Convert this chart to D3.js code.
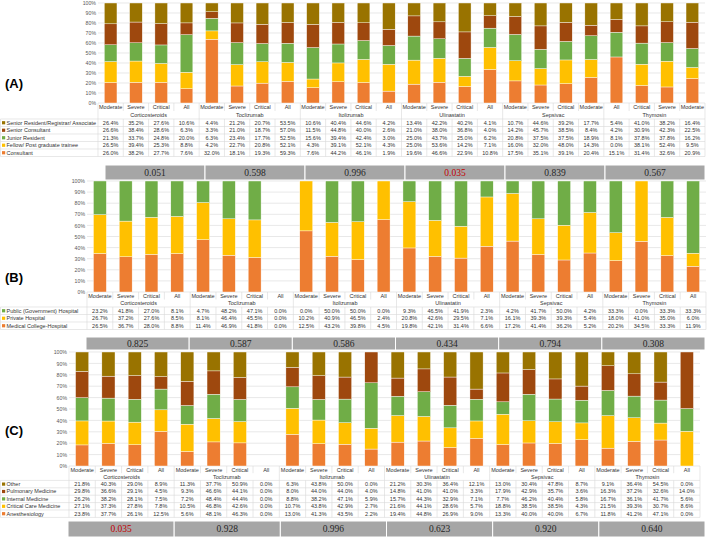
<!DOCTYPE html>
<html><head><meta charset="utf-8">
<script src="https://cdn.jsdelivr.net/npm/d3@7"></script>
<style>body{margin:0;background:#fff}svg{display:block}</style>
</head><body><svg id="chart" width="709" height="537"></svg>
<script>
// ---------- DATA ----------
const drugs = ["Corticosteroids","Toclizumab","Itolizumab","Ulinastatin","Sepsivac","Thymosin"];
const colLabelsA = ["Moderate","Severe","Critical","All","Moderate","Severe","Critical","All","Moderate","Severe","Critical","All","Moderate","Severe","Critical","All","Moderate","Severe","Critical","Moderate","All","Critical","Severe","Moderate"];
const colLabelsStd = ["Moderate","Severe","Critical","All","Moderate","Severe","Critical","All","Moderate","Severe","Critical","All","Moderate","Severe","Critical","All","Moderate","Severe","Critical","All","Moderate","Severe","Critical","All"];

// Panel A (table order, top row first)
const seriesA = ["Senior Resident/Registrar/ Associate","Senior Consultant","Junior Resident","Fellow/ Post graduate trainee","Consultant"];
const colorsA = ["#997300","#9E480E","#70AD47","#FFC000","#ED7D31"];
const aSeniorResident = [26.4,35.2,27.6,10.6, 4.4,21.2,20.7,53.5, 10.6,40.4,44.6,4.2, 13.4,42.2,40.2,4.1, 10.7,44.6,39.2,17.7, 5.4,41.0,38.2,16.4];
const aSeniorConsultant = [26.6,38.4,28.6,6.3, 3.3,21.0,18.7,57.0, 11.5,44.8,40.0,2.6, 21.0,38.0,36.8,4.0, 14.2,45.7,38.5,8.4, 4.2,30.9,42.3,22.5];
const aJuniorResident = [21.3,33.7,24.8,20.0, 6.3,23.4,17.7,52.5, 15.6,39.4,42.4,3.0, 25.0,43.7,25.0,6.2, 20.8,37.5,37.5,18.9, 8.1,37.8,37.8,16.2];
const aFellow = [26.5,39.4,25.3,8.8, 4.2,22.7,20.8,52.1, 4.3,39.1,52.1,4.3, 25.0,53.6,14.2,7.1, 16.0,32.0,48.0,14.3, 0.0,38.1,52.4,9.5];
const aConsultant = [26.0,38.2,27.7,7.6, 32.0,18.1,19.3,59.3, 7.6,44.2,46.1,1.9, 19.6,46.6,22.9,10.8, 17.5,35.1,39.1,20.4, 15.1,31.4,32.6,20.9];
const pValuesA = ["0.051","0.598","0.996","0.035","0.839","0.567"];
const pSigA = [false,false,false,true,false,false];

// Panel B
const seriesB = ["Public (Government) Hospital","Private Hospital","Medical College-Hospital"];
const colorsB = ["#70AD47","#FFC000","#ED7D31"];
const bPublic = [23.2,41.8,27.0,8.1, 4.7,48.2,47.1,0.0, 0.0,50.0,50.0,0.0, 9.3,46.5,41.9,2.3, 4.2,41.7,50.0,4.2, 33.3,0.0,33.3,33.3];
const bPrivate = [26.7,37.2,27.6,8.5, 8.1,46.4,45.5,0.0, 10.2,40.9,46.5,2.4, 20.8,42.6,29.5,7.1, 16.1,39.3,39.3,5.4, 18.0,41.0,35.0,6.0];
const bMedical = [26.5,36.7,28.0,8.8, 11.4,46.9,41.8,0.0, 12.5,43.2,39.8,4.5, 19.8,42.1,31.4,6.6, 17.2,41.4,36.2,5.2, 20.2,34.5,33.3,11.9];
const pValuesB = ["0.825","0.587","0.586","0.434","0.794","0.308"];
const pSigB = [false,false,false,false,false,false];

// Panel C
const seriesC = ["Other","Pulmonary Medicine","Internal Medicine","Critical Care Medicine","Anesthesiology"];
const colorsC = ["#997300","#9E480E","#70AD47","#FFC000","#ED7D31"];
const cOther = [21.8,40.3,29.0,8.9, 11.3,37.7,50.9,0.0, 6.3,43.8,50.0,0.0, 21.2,30.3,36.4,12.1, 13.0,30.4,47.8,8.7, 9.1,36.4,54.5,0.0];
const cPulmonary = [29.8,36.6,29.1,4.5, 9.3,46.6,44.1,0.0, 8.0,44.0,44.0,4.0, 14.8,41.0,41.0,3.3, 17.9,42.9,35.7,3.6, 16.3,37.2,32.6,14.0];
const cInternal = [26.2,38.2,28.1,7.5, 7.2,48.4,44.4,0.0, 8.8,38.2,47.1,5.9, 15.7,44.3,32.9,7.1, 7.7,46.2,40.4,5.8, 16.7,36.1,41.7,5.6];
const cCritical = [27.1,37.3,27.8,7.8, 10.5,46.8,42.6,0.0, 10.7,43.8,42.9,2.7, 21.6,44.1,28.6,5.7, 18.8,38.5,38.5,4.3, 21.5,39.3,30.7,8.6];
const cAnesthesiology = [23.8,37.7,26.1,12.5, 5.6,48.1,46.3,0.0, 13.0,41.3,43.5,2.2, 19.4,44.8,26.9,9.0, 13.3,40.0,40.0,6.7, 11.8,41.2,47.1,0.0];
const pValuesC = ["0.035","0.928","0.996","0.623","0.920","0.640"];
const pSigC = [true,false,false,false,false,false];

// ---------- DRAW ----------
const svg = d3.select("#chart");
const FONT = "'Liberation Sans', Arial, sans-serif";
const SERIF = "'Liberation Serif', 'Times New Roman', serif";
const gridCol = "#d9d9d9";

function drawPanel(cfg) {
  const g = svg.append("g");
  const n = cfg.labels.length;
  const idx = d3.range(n);
  const xb = d3.scaleBand().domain(idx).range([cfg.x0, cfg.x1]).paddingInner(0.5).paddingOuter(0.25);
  const xc = d3.scaleBand().domain(idx).range([cfg.x0, cfg.x1]);
  const y = d3.scaleLinear().domain([0, 1]).range([cfg.yB, cfg.yT]);
  const ticks = d3.range(0, 11).map(d => d / 10);

  g.append("g").selectAll("line").data(ticks).join("line")
    .attr("x1", cfg.x0).attr("x2", cfg.x1)
    .attr("y1", d => y(d)).attr("y2", d => y(d))
    .attr("stroke", gridCol).attr("stroke-width", 0.6);

  const ax = g.append("g").attr("transform", `translate(${cfg.x0 - 1},0)`)
    .call(d3.axisLeft(y).tickValues(ticks).tickFormat(d3.format(".0%")).tickSize(0).tickPadding(1));
  ax.select(".domain").remove();
  ax.selectAll("text").attr("font-family", FONT).attr("font-size", 5.2).attr("fill", "#595959");

  const keys = cfg.series.slice().reverse();
  const vals = cfg.values.slice().reverse();
  const colors = cfg.colors.slice().reverse();
  const rows = idx.map(i => { const o = {i}; keys.forEach((k, j) => o[k] = vals[j][i]); return o; });
  const stacked = d3.stack().keys(keys).offset(d3.stackOffsetExpand)(rows);
  g.append("g").selectAll("g").data(stacked).join("g")
    .attr("fill", (d, j) => colors[j])
    .selectAll("rect").data(d => d).join("rect")
    .attr("x", d => xb(d.data.i)).attr("width", xb.bandwidth())
    .attr("y", d => y(d[1])).attr("height", d => Math.max(0, y(d[0]) - y(d[1])))
    .attr("stroke", "#fff").attr("stroke-width", 0.4);

  const t = g.append("g");
  const hh = cfg.hh, rh = cfg.rh;
  const yH0 = cfg.yB, yH1 = yH0 + hh, yG1 = yH1 + hh;
  const rowY = (r) => yG1 + r * rh;
  const nr = cfg.series.length;
  const yEnd = rowY(nr);
  const line = (x1, y1, x2, y2) => t.append("line").attr("x1", x1).attr("y1", y1).attr("x2", x2).attr("y2", y2)
      .attr("stroke", gridCol).attr("stroke-width", 0.6);
  idx.forEach(i => line(xc(i), yH0, xc(i), yH1));
  line(cfg.x1, yH0, cfg.x1, yEnd);
  d3.range(0, n, 4).forEach(i => line(xc(i), yH1, xc(i), yG1));
  idx.forEach(i => line(xc(i), yG1, xc(i), yEnd));
  line(0.5, yG1, 0.5, yEnd);
  d3.range(nr + 1).forEach(r => line(0.5, rowY(r), cfg.x1, rowY(r)));

  t.selectAll("text.cat").data(idx).join("text").attr("class", "cat")
    .attr("x", i => xc(i) + xc.bandwidth() / 2).attr("y", (yH0 + yH1) / 2)
    .attr("dy", "0.35em").attr("text-anchor", "middle")
    .attr("font-family", FONT).attr("font-size", 5.5).attr("fill", "#333")
    .text(i => cfg.labels[i]);
  t.selectAll("text.grp").data(drugs).join("text").attr("class", "grp")
    .attr("x", (d, k) => xc(k * 4) + 2 * xc.bandwidth()).attr("y", (yH1 + yG1) / 2)
    .attr("dy", "0.35em").attr("text-anchor", "middle")
    .attr("font-family", FONT).attr("font-size", 5.5).attr("fill", "#333")
    .text(d => d);

  cfg.series.forEach((s, r) => {
    const cy = rowY(r) + rh / 2;
    t.append("rect").attr("x", 2).attr("y", cy - 1.6).attr("width", 3.2).attr("height", 3.2).attr("fill", cfg.colors[r]);
    const lab = t.append("text").attr("x", 6.5).attr("y", cy).attr("dy", "0.35em")
      .attr("font-family", FONT).attr("font-size", 5.5).attr("fill", "#333").text(s);
    const maxW = cfg.x0 - 8;
    if (lab.node().getComputedTextLength() > maxW) {
      lab.attr("textLength", maxW).attr("lengthAdjust", "spacingAndGlyphs");
    }
    t.append("g").selectAll("text").data(cfg.values[r]).join("text")
      .attr("x", (d, i) => xc(i) + xc.bandwidth() / 2).attr("y", cy).attr("dy", "0.35em")
      .attr("text-anchor", "middle").attr("font-family", FONT).attr("font-size", 5.5).attr("fill", "#333")
      .text(d => d.toFixed(1) + "%");
  });

  const xp = d3.scaleBand().domain(d3.range(6)).range([cfg.px0, cfg.px1]);
  const pg = g.append("g");
  pg.selectAll("rect").data(cfg.pvals).join("rect")
    .attr("x", (d, k) => xp(k)).attr("width", xp.bandwidth())
    .attr("y", cfg.py0).attr("height", cfg.py1 - cfg.py0)
    .attr("fill", "#a6a6a6").attr("stroke", "#fff").attr("stroke-width", 1);
  pg.selectAll("text").data(cfg.pvals).join("text")
    .attr("x", (d, k) => xp(k) + xp.bandwidth() / 2).attr("y", (cfg.py0 + cfg.py1) / 2).attr("dy", "0.35em")
    .attr("text-anchor", "middle").attr("font-family", SERIF).attr("font-size", 9.5)
    .attr("fill", (d, k) => cfg.sig[k] ? "#c00000" : "#262626").text(d => d);

  g.append("text").attr("x", 5).attr("y", cfg.labelY).attr("dy", "0.35em")
    .attr("font-family", FONT).attr("font-weight", "bold").attr("font-size", 13).attr("fill", "#000")
    .text(cfg.panel);
}

drawPanel({panel: "(A)", labels: colLabelsA, series: seriesA, colors: colorsA,
  values: [aSeniorResident, aSeniorConsultant, aJuniorResident, aFellow, aConsultant],
  x0: 98, x1: 705, yT: 3, yB: 103, hh: 8, rh: 7.5,
  px0: 105, px1: 705, py0: 165, py1: 180, pvals: pValuesA, sig: pSigA, labelY: 83});

drawPanel({panel: "(B)", labels: colLabelsStd, series: seriesB, colors: colorsB,
  values: [bPublic, bPrivate, bMedical],
  x0: 87, x1: 706, yT: 181, yB: 292, hh: 7.5, rh: 7.5,
  px0: 86, px1: 705, py0: 337, py1: 350, pvals: pValuesB, sig: pSigB, labelY: 277});

drawPanel({panel: "(C)", labels: colLabelsStd, series: seriesC, colors: colorsC,
  values: [cOther, cPulmonary, cInternal, cCritical, cAnesthesiology],
  x0: 69, x1: 700, yT: 352, yB: 466, hh: 7.2, rh: 7.4,
  px0: 68, px1: 705, py0: 521, py1: 537, pvals: pValuesC, sig: pSigC, labelY: 430});
</script>
</body></html>
